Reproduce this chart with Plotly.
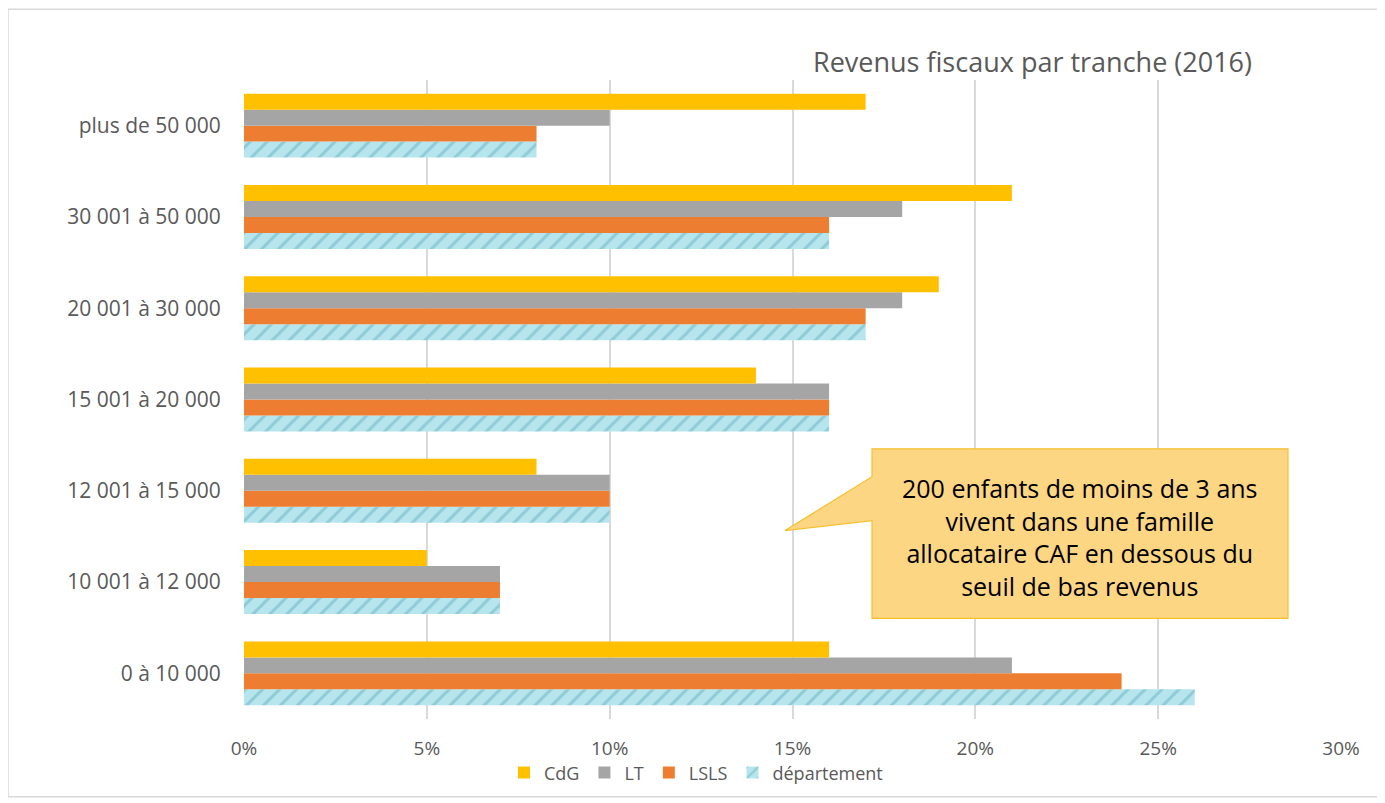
import plotly.graph_objects as go

categories = ["0 à 10 000", "10 001 à 12 000", "12 001 à 15 000", "15 001 à 20 000",
              "20 001 à 30 000", "30 001 à 50 000", "plus de 50 000"]
cdg = [16, 5, 8, 14, 19, 21, 17]
lt = [21, 7, 10, 16, 18, 18, 10]
lsls = [24, 7, 10, 16, 17, 16, 8]
departement = [26, 7, 10, 16, 17, 16, 8]
x_ticks = [0, 5, 10, 15, 20, 25, 30]
x_labels = ["0%", "5%", "10%", "15%", "20%", "25%", "30%"]

OFF = 8  # page body margin
W, H = 1385 - OFF, 803 - OFF
L, R, T, B = 244 - OFF, 1341 - OFF, 80 - OFF, 721 - OFF


def px(x):
    return (x - OFF - L) / (R - L)


def py(y):
    return (B - (y - OFF)) / (B - T)


fig = go.Figure()
fig.add_trace(go.Bar(
    y=categories, x=departement, orientation="h", name="département",
    marker=dict(color="#B7E5ED", line=dict(width=0),
                pattern=dict(shape="/", bgcolor="#B7E5ED", fgcolor="#8FCBD7",
                             size=12, solidity=0.25, fillmode="replace")),
))
fig.add_trace(go.Bar(y=categories, x=lsls, orientation="h", name="LSLS",
                     marker=dict(color="#ED7D31", line=dict(width=0))))
fig.add_trace(go.Bar(y=categories, x=lt, orientation="h", name="LT",
                     marker=dict(color="#A5A5A5", line=dict(width=0))))
fig.add_trace(go.Bar(y=categories, x=cdg, orientation="h", name="CdG",
                     marker=dict(color="#FFC000", line=dict(width=0))))

font_family = "Open Sans, Noto Sans, sans-serif"

# callout polygon
pts = [(872, 450), (1288, 450), (1288, 620), (872, 620), (872, 522), (785, 532), (872, 478)]
path = "M " + " L ".join(f"{px(a):.5f},{py(b):.5f}" for a, b in pts) + " Z"

shapes = [
    dict(type="rect", xref="paper", yref="paper",
         x0=px(8), x1=px(1381), y0=py(799), y1=py(9),
         line=dict(color="#D9D9D9", width=1.5), fillcolor="rgba(0,0,0,0)", layer="below"),
    dict(type="path", xref="paper", yref="paper", path=path,
         fillcolor="#FDD683", line=dict(color="#F5C02C", width=1.2)),
]

annotations = [
    dict(xref="paper", yref="paper", x=px(1032), y=py(61), xanchor="center", yanchor="middle",
         text="Revenus fiscaux par tranche (2016)", showarrow=False,
         font=dict(family=font_family, size=27, color="#595959")),
    dict(xref="paper", yref="paper", x=px(1080), y=py(538), xanchor="center", yanchor="middle",
         text="200 enfants de moins de 3 ans<br>vivent dans une famille<br>allocataire CAF en dessous du<br>seuil de bas revenus",
         showarrow=False, align="center",
         font=dict(family=font_family, size=25, color="#000000")),
]

fig.update_layout(
    width=W, height=H,
    margin=dict(l=L, r=W - R, t=T, b=H - B),
    paper_bgcolor="white", plot_bgcolor="white",
    barmode="group", bargap=0.30, bargroupgap=0,
    font=dict(family=font_family, size=19, color="#595959"),
    xaxis=dict(range=[0, 30], tickvals=x_ticks, ticktext=x_labels,
               showgrid=True, gridcolor="#D9D9D9", gridwidth=1.5,
               zeroline=False, showline=False, ticks="outside", ticklen=12,
               tickcolor="rgba(0,0,0,0)",
               tickfont=dict(size=19, color="#595959")),
    yaxis=dict(categoryorder="array", categoryarray=categories,
               showgrid=False, zeroline=False, showline=False, ticks="outside",
               ticklen=18, tickcolor="rgba(0,0,0,0)",
               tickfont=dict(size=21, color="#595959")),
    legend=dict(orientation="h", x=px(696), y=py(775), xanchor="center", yanchor="middle",
                traceorder="reversed", font=dict(size=18, color="#595959"),
                bgcolor="rgba(0,0,0,0)", itemwidth=30),
    shapes=shapes, annotations=annotations,
)

fig.write_html("out.html")
